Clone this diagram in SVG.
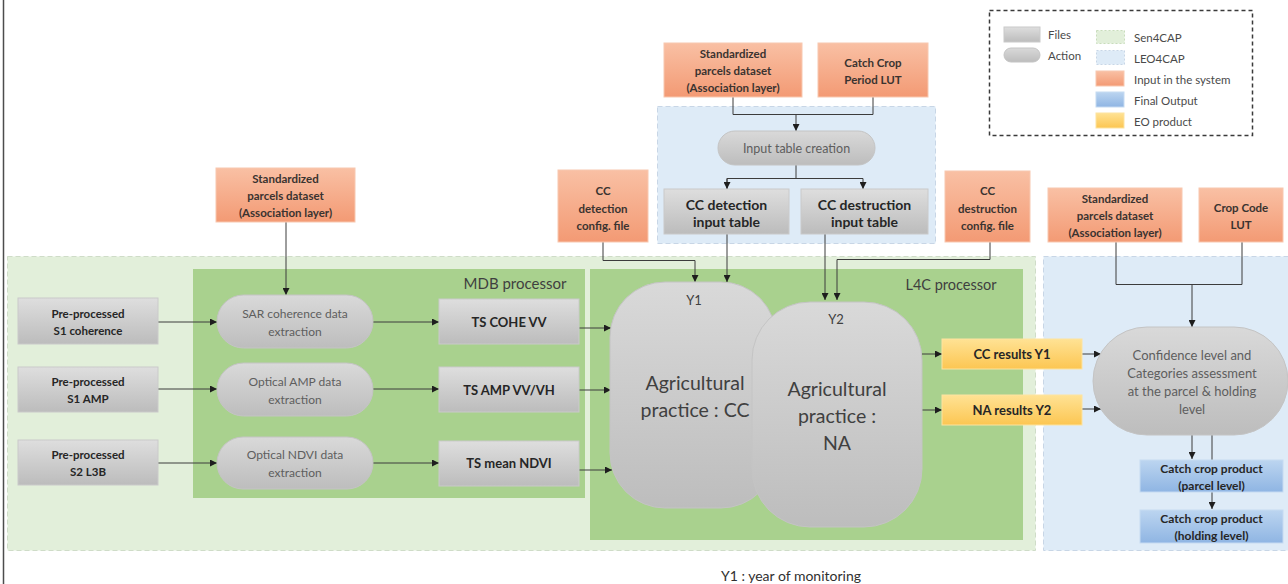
<svg xmlns="http://www.w3.org/2000/svg" width="1288" height="584" viewBox="0 0 1288 584">
<defs>
<linearGradient id="gGray" x1="0" y1="0" x2="0" y2="1"><stop offset="0" stop-color="#dedede"/><stop offset="1" stop-color="#bcbcbc"/></linearGradient>
<linearGradient id="gPill" x1="0" y1="0" x2="0" y2="1"><stop offset="0" stop-color="#d9d9d9"/><stop offset="1" stop-color="#bdbdbd"/></linearGradient>
<linearGradient id="gOrange" x1="0" y1="0" x2="0" y2="1"><stop offset="0" stop-color="#f9c0a4"/><stop offset="1" stop-color="#f39a74"/></linearGradient>
<linearGradient id="gYellow" x1="0" y1="0" x2="0" y2="1"><stop offset="0" stop-color="#ffe294"/><stop offset="1" stop-color="#fcc652"/></linearGradient>
<linearGradient id="gBlue" x1="0" y1="0" x2="0" y2="1"><stop offset="0" stop-color="#bcd5f0"/><stop offset="1" stop-color="#8fb5e3"/></linearGradient>
<marker id="arr" viewBox="0 0 10 10" refX="10" refY="5" markerWidth="7" markerHeight="7" orient="auto" markerUnits="userSpaceOnUse"><path d="M0,0 L10,5 L0,10 z" fill="#1e1e1e"/></marker>
<style>
text{font-family:Lato,"Liberation Sans",sans-serif;text-anchor:middle;dominant-baseline:central}
.file{fill:url(#gGray);stroke:#cacaca;stroke-width:1}
.pill{fill:url(#gPill);stroke:#c4c4c4;stroke-width:1}
.inp{fill:url(#gOrange);stroke:#f8c8b0;stroke-width:1}
.eo{fill:url(#gYellow);stroke:#fde3a0;stroke-width:1}
.out{fill:url(#gBlue);stroke:#c6dbf2;stroke-width:1}
.tb{font-weight:bold;fill:#262626}
.tin{font-weight:bold;fill:#3a3330;font-size:11.5px}
.tp{fill:#5e5e5e;font-size:12px}
.conn{fill:none;stroke:#3c3c3c;stroke-width:1}
.leg{fill:#4a4a4a;font-size:11.5px;text-anchor:start}
</style>
</defs>
<rect x="0" y="0" width="1288" height="584" fill="#ffffff"/>
<line x1="3.5" y1="0" x2="3.5" y2="584" stroke="#4d4d4d" stroke-width="1.5"/>

<g id="regions">
<rect id="sen4cap-area" x="7.5" y="256.5" width="1028" height="294" fill="#e2efda" stroke="#cfdcc8" stroke-dasharray="5,3"/>
<rect id="leo4cap-top" x="657.5" y="106.5" width="278" height="137" fill="#deebf7" stroke="#c8d6e6" stroke-dasharray="5,3"/>
<rect id="leo4cap-right" x="1043.5" y="256.5" width="250" height="294" fill="#deebf7" stroke="#c8d6e6" stroke-dasharray="5,3"/>
<rect id="mdb" x="193" y="269" width="392" height="229" fill="#a9d18e"/>
<rect id="l4c" x="590" y="269" width="433" height="271" fill="#a9d18e"/>
<text x="515" y="283" style="font-size:15px;fill:#3f3f3f">MDB processor</text>
<text x="951" y="284" style="font-size:14.5px;fill:#3f3f3f">L4C processor</text>
</g>

<g id="legend">
<rect x="989.5" y="10.5" width="263" height="125" fill="#ffffff" stroke="#3a3a3a" stroke-width="1.5" stroke-dasharray="4,3"/>
<rect x="1004" y="27" width="36" height="15" class="file" stroke="none"/>
<text x="1048" y="34" class="leg">Files</text>
<rect x="1004" y="48" width="36" height="14" rx="7" class="pill" stroke="none"/>
<text x="1048" y="55" class="leg">Action</text>
<rect x="1096.5" y="30.5" width="28" height="13" fill="#e2efda" stroke="#c9dcbc" stroke-dasharray="2,2"/>
<text x="1134" y="37" class="leg">Sen4CAP</text>
<rect x="1096.5" y="50.5" width="28" height="14" fill="#deebf7" stroke="#c8d6e6" stroke-dasharray="2,2"/>
<text x="1134" y="58" class="leg">LEO4CAP</text>
<rect x="1096" y="71" width="28" height="15" class="inp"/>
<text x="1134" y="79" class="leg">Input in the system</text>
<rect x="1096" y="92" width="28" height="15" class="out"/>
<text x="1134" y="100" class="leg">Final Output</text>
<rect x="1096" y="113" width="28" height="15" class="eo"/>
<text x="1134" y="121" class="leg">EO product</text>
</g>

<g id="connectors">
<line class="conn" x1="286" y1="222" x2="286" y2="295" marker-end="url(#arr)"/>
<line class="conn" x1="158" y1="322" x2="217" y2="322" marker-end="url(#arr)"/>
<line class="conn" x1="373" y1="322" x2="439" y2="322" marker-end="url(#arr)"/>
<line class="conn" x1="158" y1="389" x2="217" y2="389" marker-end="url(#arr)"/>
<line class="conn" x1="373" y1="389" x2="439" y2="389" marker-end="url(#arr)"/>
<line class="conn" x1="158" y1="463" x2="217" y2="463" marker-end="url(#arr)"/>
<line class="conn" x1="373" y1="463" x2="439" y2="463" marker-end="url(#arr)"/>
<line class="conn" x1="579" y1="328" x2="611" y2="328" marker-end="url(#arr)"/>
<line class="conn" x1="579" y1="390" x2="611" y2="390" marker-end="url(#arr)"/>
<line class="conn" x1="579" y1="470" x2="612" y2="470" marker-end="url(#arr)"/>
<polyline class="conn" points="733,97 733,114.5 873,114.5 873,97"/>
<line class="conn" x1="796" y1="114.5" x2="796" y2="131" marker-end="url(#arr)"/>
<line class="conn" x1="796" y1="165" x2="796" y2="178.5"/>
<polyline class="conn" points="727,189 727,178.5 863,178.5 863,189" marker-start="url(#arr)" marker-end="url(#arr)" style="marker-start:none"/>
<line class="conn" x1="727" y1="178.5" x2="727" y2="189" marker-end="url(#arr)"/>
<polyline class="conn" points="603,242 603,260.5 695,260.5 695,282" marker-end="url(#arr)"/>
<line class="conn" x1="727" y1="234" x2="727" y2="282" marker-end="url(#arr)"/>
<line class="conn" x1="825" y1="234" x2="825" y2="300" marker-end="url(#arr)"/>
<polyline class="conn" points="990,242 990,259.5 837,259.5 837,300" marker-end="url(#arr)"/>
<line class="conn" x1="922" y1="354" x2="942" y2="354" marker-end="url(#arr)"/>
<line class="conn" x1="922" y1="410" x2="942" y2="410" marker-end="url(#arr)"/>
<line class="conn" x1="1082" y1="354" x2="1101" y2="354" marker-end="url(#arr)"/>
<line class="conn" x1="1082" y1="409" x2="1101" y2="409" marker-end="url(#arr)"/>
<polyline class="conn" points="1116,242 1116,284.5 1242,284.5 1242,242"/>
<line class="conn" x1="1192" y1="284.5" x2="1192" y2="327" marker-end="url(#arr)"/>
<line class="conn" x1="1192" y1="435" x2="1192" y2="459" marker-end="url(#arr)"/>
<line class="conn" x1="1212" y1="435" x2="1212" y2="509" marker-end="url(#arr)"/>
</g>

<g id="n-std-left"><rect x="216" y="168" width="139" height="54" class="inp"/>
<text x="285.5" y="178" class="tin">Standardized</text><text x="285.5" y="195" class="tin">parcels dataset</text><text x="285.5" y="212" class="tin">(Association layer)</text></g>

<g id="n-std-top"><rect x="664" y="43" width="138" height="54" class="inp"/>
<text x="733" y="53" class="tin">Standardized</text><text x="733" y="70" class="tin">parcels dataset</text><text x="733" y="87" class="tin">(Association layer)</text></g>

<g id="n-cclut"><rect x="818" y="43" width="110" height="54" class="inp"/>
<text x="873" y="62" class="tin">Catch Crop</text><text x="873" y="79" class="tin">Period LUT</text></g>

<g id="n-inputtable"><rect x="718" y="131" width="157" height="34" rx="17" class="pill"/>
<text x="796.5" y="148" class="tp" style="font-size:12.5px">Input table creation</text></g>

<g id="n-ccdet-table"><rect x="664" y="189" width="125" height="45" class="file"/>
<text x="726.5" y="204" class="tb" style="font-size:14px">CC detection</text><text x="726.5" y="221" class="tb" style="font-size:14px">input table</text></g>

<g id="n-ccdes-table"><rect x="801" y="189" width="127" height="45" class="file"/>
<text x="864.5" y="204" class="tb" style="font-size:14px">CC destruction</text><text x="864.5" y="221" class="tb" style="font-size:14px">input table</text></g>

<g id="n-ccdet-config"><rect x="558" y="170" width="90" height="72" class="inp"/>
<text x="603" y="190" class="tin">CC</text><text x="603" y="208" class="tin">detection</text><text x="603" y="225" class="tin">config. file</text></g>

<g id="n-ccdes-config"><rect x="945" y="171" width="85" height="71" class="inp"/>
<text x="987.5" y="190" class="tin">CC</text><text x="987.5" y="208" class="tin">destruction</text><text x="987.5" y="225" class="tin">config. file</text></g>

<g id="n-std-right"><rect x="1048" y="188" width="134" height="54" class="inp"/>
<text x="1115" y="198" class="tin">Standardized</text><text x="1115" y="215" class="tin">parcels dataset</text><text x="1115" y="232" class="tin">(Association layer)</text></g>

<g id="n-cropcode"><rect x="1199" y="188" width="84" height="54" class="inp"/>
<text x="1241" y="207" class="tin">Crop Code</text><text x="1241" y="224" class="tin">LUT</text></g>

<g id="n-s1coh"><rect x="18" y="298" width="140" height="46" class="file"/>
<text x="88" y="313" class="tb" style="font-size:11.5px">Pre-processed</text><text x="88" y="330" class="tb" style="font-size:11.5px">S1 coherence</text></g>

<g id="n-s1amp"><rect x="18" y="367" width="140" height="45" class="file"/>
<text x="88" y="381" class="tb" style="font-size:11.5px">Pre-processed</text><text x="88" y="398" class="tb" style="font-size:11.5px">S1 AMP</text></g>

<g id="n-s2l3b"><rect x="18" y="440" width="140" height="45" class="file"/>
<text x="88" y="454" class="tb" style="font-size:11.5px">Pre-processed</text><text x="88" y="471" class="tb" style="font-size:11.5px">S2 L3B</text></g>

<g id="n-sar"><rect x="217" y="295" width="156" height="53" rx="26.5" class="pill"/>
<text x="295" y="313" class="tp">SAR coherence data</text><text x="295" y="331" class="tp">extraction</text></g>

<g id="n-amp"><rect x="217" y="363" width="156" height="53" rx="26.5" class="pill"/>
<text x="295" y="381" class="tp">Optical AMP data</text><text x="295" y="399" class="tp">extraction</text></g>

<g id="n-ndvi"><rect x="217" y="437" width="156" height="52" rx="26" class="pill"/>
<text x="295" y="454" class="tp">Optical NDVI data</text><text x="295" y="472" class="tp">extraction</text></g>

<g id="n-tscohe"><rect x="439" y="299" width="140" height="45" class="file"/>
<text x="509" y="322" class="tb" style="font-size:13px">TS COHE VV</text></g>

<g id="n-tsamp"><rect x="439" y="367" width="140" height="45" class="file"/>
<text x="509" y="390" class="tb" style="font-size:13px">TS AMP VV/VH</text></g>

<g id="n-tsndvi"><rect x="439" y="441" width="140" height="45" class="file"/>
<text x="509" y="463" class="tb" style="font-size:13px">TS mean NDVI</text></g>

<g id="n-y1"><rect x="610" y="282" width="166" height="226" rx="55" class="pill" stroke="none"/>
<text x="694" y="300" style="font-size:13px;fill:#404040">Y1</text>
<text x="695" y="382" style="font-size:19.5px;fill:#404040">Agricultural</text>
<text x="695" y="409" style="font-size:19.5px;fill:#404040">practice : CC</text></g>

<g id="n-y2"><rect x="752" y="302" width="170" height="225" rx="58" class="pill" stroke="none"/>
<text x="836" y="319" style="font-size:13px;fill:#404040">Y2</text>
<text x="837" y="388" style="font-size:19.5px;fill:#404040">Agricultural</text>
<text x="837" y="415" style="font-size:19.5px;fill:#404040">practice :</text>
<text x="837" y="442" style="font-size:19.5px;fill:#404040">NA</text></g>

<g id="n-ccres"><rect x="942" y="339" width="140" height="30" class="eo"/>
<text x="1012" y="354" class="tb" style="font-size:13px">CC results Y1</text></g>

<g id="n-nares"><rect x="942" y="395" width="140" height="30" class="eo"/>
<text x="1012" y="410" class="tb" style="font-size:13px">NA results Y2</text></g>

<g id="n-confidence"><rect x="1093" y="327" width="195" height="108" rx="54" class="pill" stroke="none"/>
<text x="1192" y="355" class="tp" style="font-size:13px">Confidence level and</text>
<text x="1192" y="373" class="tp" style="font-size:13px">Categories assessment</text>
<text x="1192" y="391" class="tp" style="font-size:13px">at the parcel &amp; holding</text>
<text x="1192" y="409" class="tp" style="font-size:13px">level</text></g>

<g id="n-parcel"><rect x="1140" y="460" width="143" height="32" class="out"/>
<text x="1211.5" y="468" class="tb" style="font-size:12px">Catch crop product</text><text x="1211.5" y="485" class="tb" style="font-size:12px">(parcel level)</text></g>

<g id="n-holding"><rect x="1140" y="510" width="143" height="33" class="out"/>
<text x="1211.5" y="518" class="tb" style="font-size:12px">Catch crop product</text><text x="1211.5" y="535" class="tb" style="font-size:12px">(holding level)</text></g>

<text x="791" y="575" style="font-size:14px;fill:#303030">Y1 : year of monitoring</text>
</svg>
